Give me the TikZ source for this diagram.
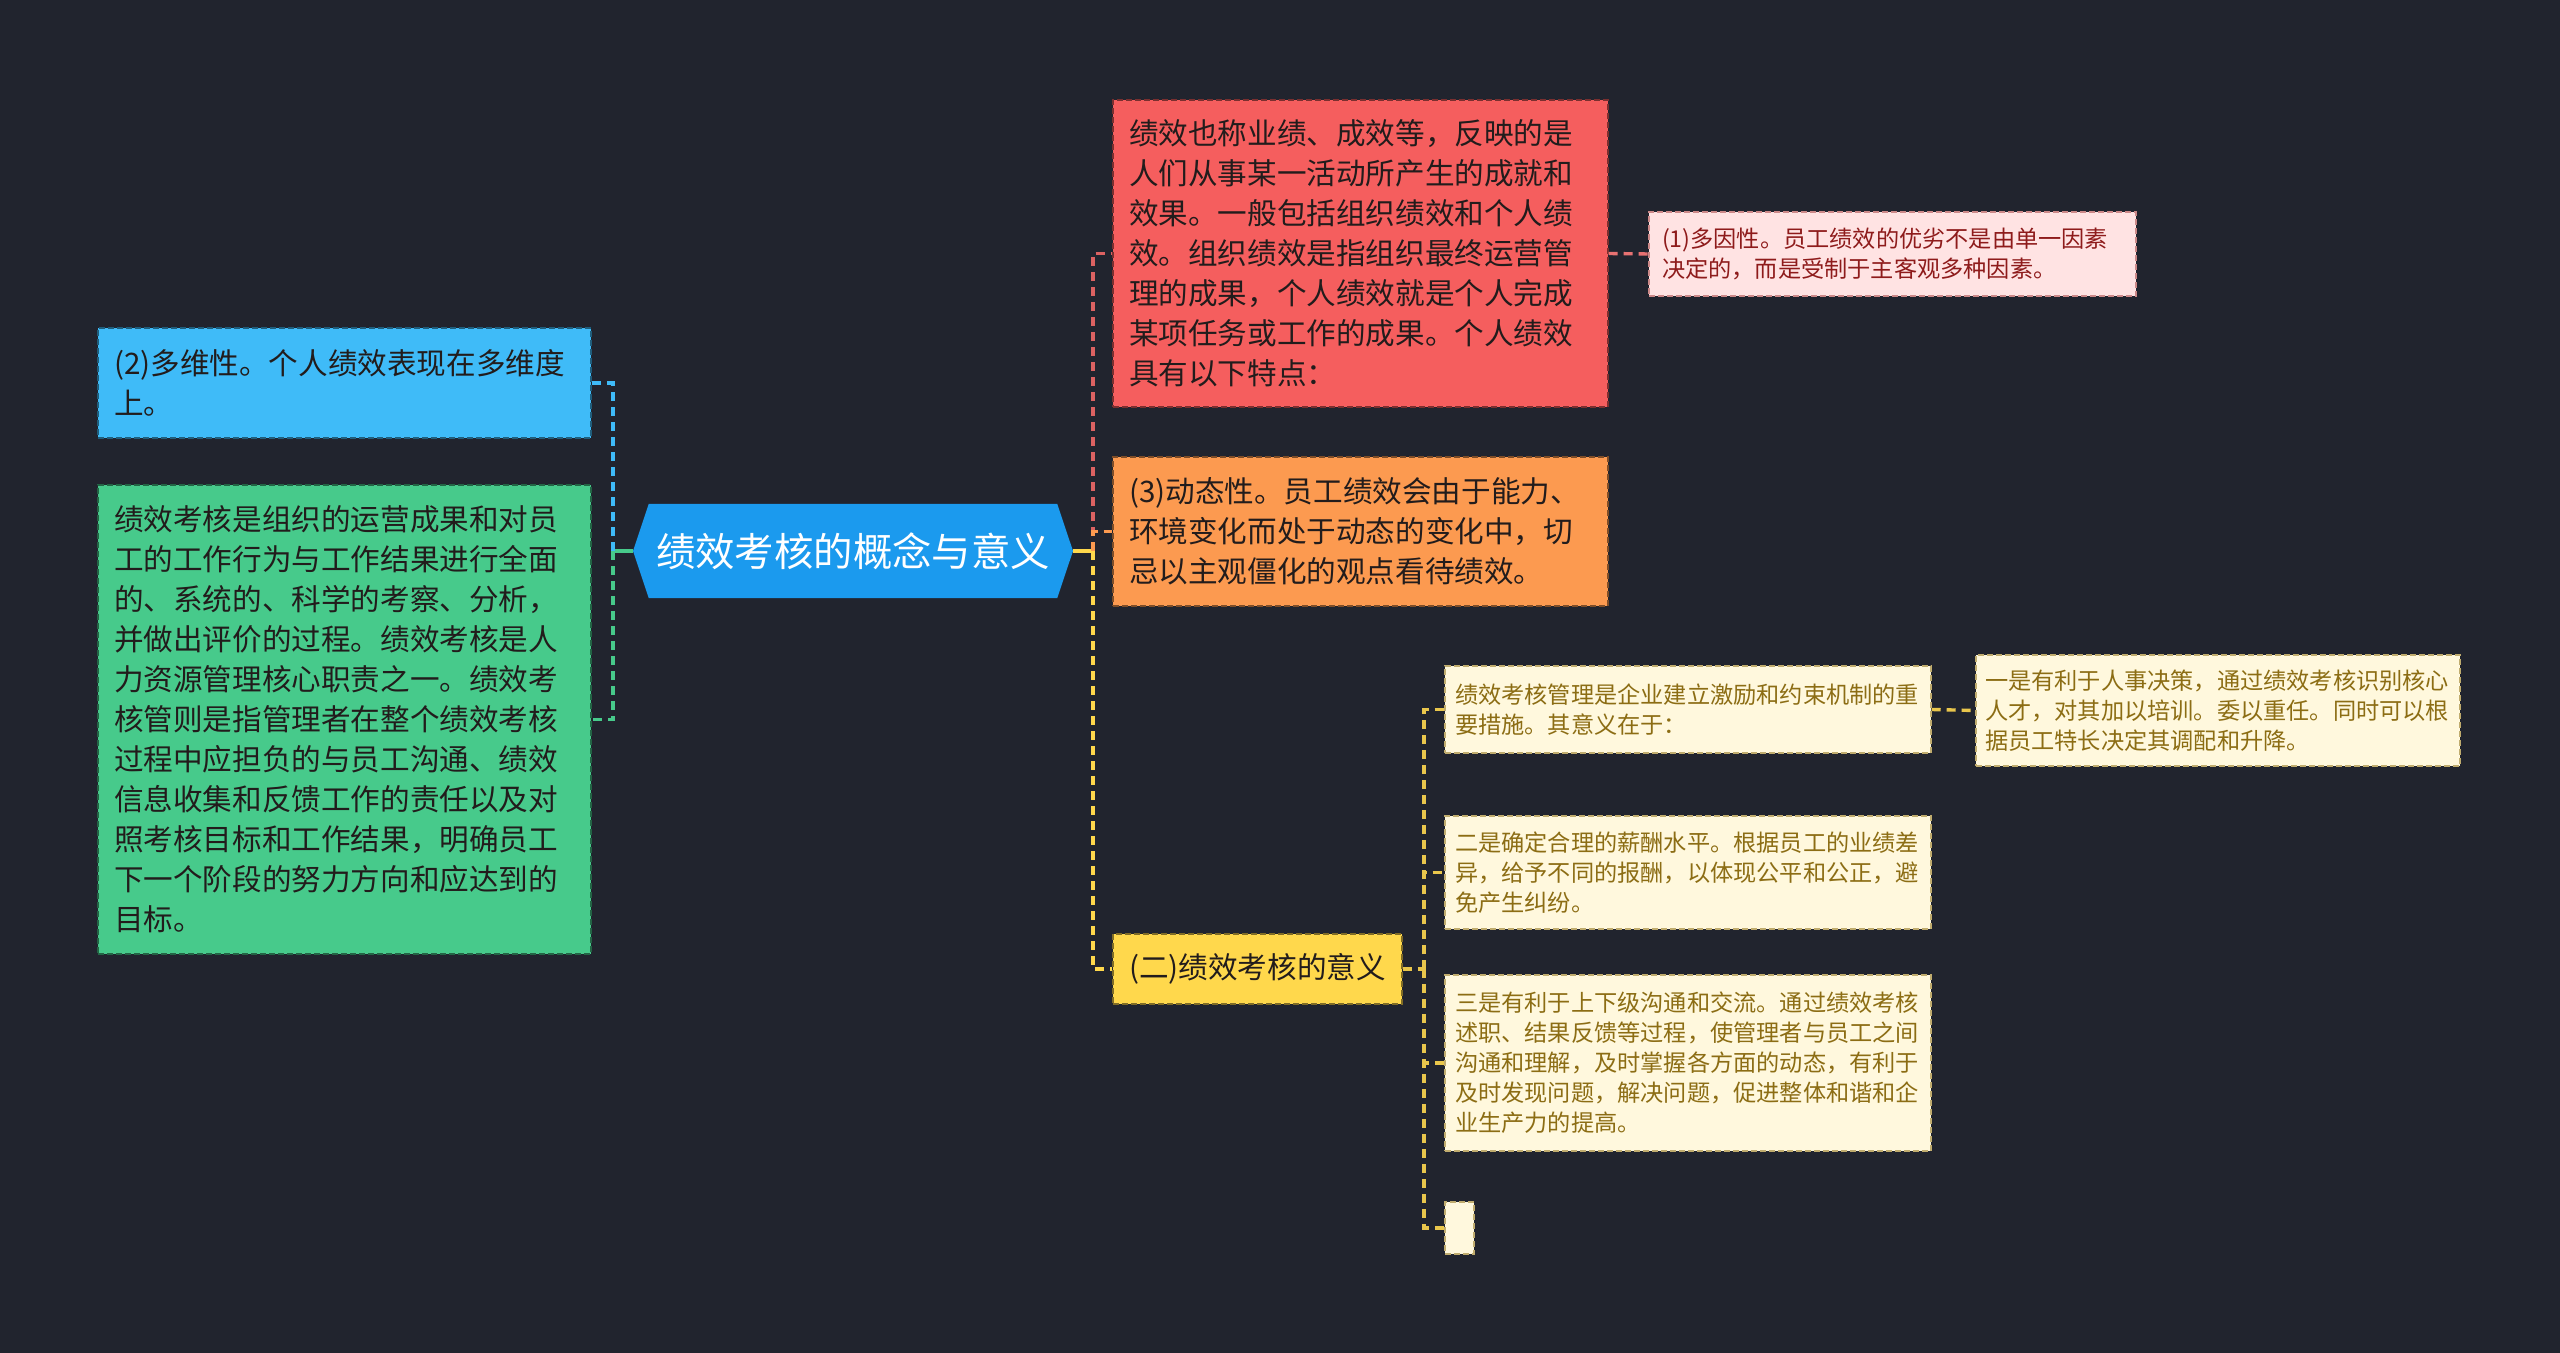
\documentclass[tikz,border=0pt]{standalone}
\usepackage{fontspec}
\newfontfamily\cjk{Noto Sans CJK SC}
\usepackage{tikz}
\usetikzlibrary{shapes.symbols}
\usepackage{xcolor}

\definecolor{bgdark}{HTML}{21242E}
\definecolor{rootblue}{HTML}{1B9AEE}
\definecolor{skyfill}{HTML}{3FBBF8}
\definecolor{mintfill}{HTML}{47CA8B}
\definecolor{redfill}{HTML}{F55E5E}
\definecolor{redline}{HTML}{DC6262}
\definecolor{orangefill}{HTML}{FC9A50}
\definecolor{pinkfill}{HTML}{FFE3E3}
\definecolor{pinktext}{HTML}{8E1B1B}
\definecolor{pinkline}{HTML}{E87272}
\definecolor{goldfill}{HTML}{FFD84C}
\definecolor{goldline}{HTML}{E9C64C}
\definecolor{creamfill}{HTML}{FFF8DD}
\definecolor{creamtext}{HTML}{8C6D14}
\definecolor{darktext}{HTML}{221C1C}

\begin{document}
\begin{tikzpicture}[x=0.5pt,y=-0.5pt,
	rootnode/.style={signal,signal to=west and east,signal pointer angle=143,
		fill=rootblue,text=white,minimum width=220pt,minimum height=47pt,inner sep=0pt,
		font=\cjk\fontsize{19.7pt}{24pt}\selectfont},
	topicbox/.style={rectangle,draw,dash pattern=on 3pt off 1.5pt,line width=0.7pt,
		align=left,inner xsep=8pt,inner ysep=0pt,text=darktext,
		font=\cjk\fontsize{14.8pt}{20pt}\selectfont},
	notebox/.style={topicbox,inner xsep=5pt,
		font=\cjk\fontsize{11.6pt}{15pt}\selectfont},
	trunk/.style={line width=1.7pt},
	branch/.style={line width=1.7pt,dash pattern=on 4.5pt off 3pt}]
		
		%----------------------------------------
		% Canvas
		%----------------------------------------
		\useasboundingbox (0,0) rectangle (2560,1353);
		\fill[bgdark] (0,0) rectangle (2560,1353);
		
		%----------------------------------------
		% Central topic
		%----------------------------------------
		\node[rootnode] (root) at (853,551) {绩效考核的概念与意义};
		
		%----------------------------------------
		% Left side
		%----------------------------------------
		\node[topicbox,fill=skyfill,draw=skyfill!50!black,text width=230.5pt,minimum height=55pt]
		(dim) at (344.5,383) {(2)多维性。个人绩效表现在多维度\\
			上。};
		
		\node[topicbox,fill=mintfill,draw=mintfill!50!black,text width=230.5pt,minimum height=234.5pt]
		(define) at (344.5,719.5) {绩效考核是组织的运营成果和对员\\
			工的工作行为与工作结果进行全面\\
			的、系统的、科学的考察、分析，\\
			并做出评价的过程。绩效考核是人\\
			力资源管理核心职责之一。绩效考\\
			核管则是指管理者在整个绩效考核\\
			过程中应担负的与员工沟通、绩效\\
			信息收集和反馈工作的责任以及对\\
			照考核目标和工作结果，明确员工\\
			下一个阶段的努力方向和应达到的\\
			目标。};
		
		%----------------------------------------
		% Right side: concept
		%----------------------------------------
		\node[topicbox,fill=redfill,draw=redfill!50!black,text width=231.5pt,minimum height=153.5pt]
		(concept) at (1360.5,253.5) {绩效也称业绩、成效等，反映的是\\
			人们从事某一活动所产生的成就和\\
			效果。一般包括组织绩效和个人绩\\
			效。组织绩效是指组织最终运营管\\
			理的成果，个人绩效就是个人完成\\
			某项任务或工作的成果。个人绩效\\
			具有以下特点：};
		
		\node[notebox,fill=pinkfill,draw=pinktext!45!pinkfill,text=pinktext,
		inner xsep=6.5pt,text width=230.5pt,minimum height=42pt]
		(multi) at (1892.5,254) {(1)多因性。员工绩效的优劣不是由单一因素\\
			决定的，而是受制于主客观多种因素。};
		
		\node[topicbox,fill=orangefill,draw=orangefill!50!black,text width=231.5pt,minimum height=74.5pt]
		(dyn) at (1360.5,531.5) {(3)动态性。员工绩效会由于能力、\\
			环境变化而处于动态的变化中，切\\
			忌以主观僵化的观点看待绩效。};
		
		%----------------------------------------
		% Right side: meaning
		%----------------------------------------
		\node[topicbox,fill=goldfill,draw=goldfill!50!black,minimum width=144.5pt,minimum height=35pt]
		(meaning) at (1257.5,969) {(二)绩效考核的意义};
		
		\node[notebox,fill=creamfill,draw=creamtext!55!creamfill,text=creamtext,
		text width=233pt,minimum height=43.5pt]
		(measure) at (1688,709.5) {绩效考核管理是企业建立激励和约束机制的重\\
			要措施。其意义在于：};
		
		\node[notebox,fill=creamfill,draw=creamtext!55!creamfill,text=creamtext,
		inner xsep=4.5pt,text width=233pt,minimum height=55.5pt]
		(staff) at (2218,710.5) {一是有利于人事决策，通过绩效考核识别核心\\
			人才，对其加以培训。委以重任。同时可以根\\
			据员工特长决定其调配和升降。};
		
		\node[notebox,fill=creamfill,draw=creamtext!55!creamfill,text=creamtext,
		text width=233pt,minimum height=56.5pt]
		(pay) at (1688,872.5) {二是确定合理的薪酬水平。根据员工的业绩差\\
			异，给予不同的报酬，以体现公平和公正，避\\
			免产生纠纷。};
		
		\node[notebox,fill=creamfill,draw=creamtext!55!creamfill,text=creamtext,
		text width=233pt,minimum height=88pt]
		(talk) at (1688,1063) {三是有利于上下级沟通和交流。通过绩效考核\\
			述职、结果反馈等过程，使管理者与员工之间\\
			沟通和理解，及时掌握各方面的动态，有利于\\
			及时发现问题，解决问题，促进整体和谐和企\\
			业生产力的提高。};
		
		\node[notebox,fill=creamfill,draw=creamtext!55!creamfill,
		inner sep=0pt,minimum width=14.5pt,minimum height=26pt]
		(blank) at (1459.5,1228) {};
		
		%----------------------------------------
		% Hubs
		%----------------------------------------
		\coordinate (lhub) at (613,551);
		\coordinate (rhub) at (1093,551);
		\coordinate (yhub) at (1424,969);
		
		%----------------------------------------
		% Connectors
		%----------------------------------------
		\draw[trunk,mintfill] (root.west) -- (lhub);
		\draw[branch,skyfill] (lhub) |- (dim.east);
		\draw[branch,mintfill] (lhub) |- (define.east);
		
		\draw[trunk,goldfill] (root.east) -- (rhub);
		\draw[branch,redline] (rhub) |- (concept.west);
		\draw[branch,orangefill] (rhub) |- (dyn.west);
		\draw[branch,goldfill] (rhub) |- (meaning.west);
		
		\draw[branch,pinkline] (concept.east) -- (multi.west);
		
		\draw[branch,goldline] (meaning.east) -- (yhub);
		\foreach \leaf in {measure,pay,talk,blank}
		\draw[branch,goldline] (yhub) |- (\leaf.west);
		\draw[branch,goldline] (measure.east) -- (staff.west);
		
	\end{tikzpicture}
\end{document}
